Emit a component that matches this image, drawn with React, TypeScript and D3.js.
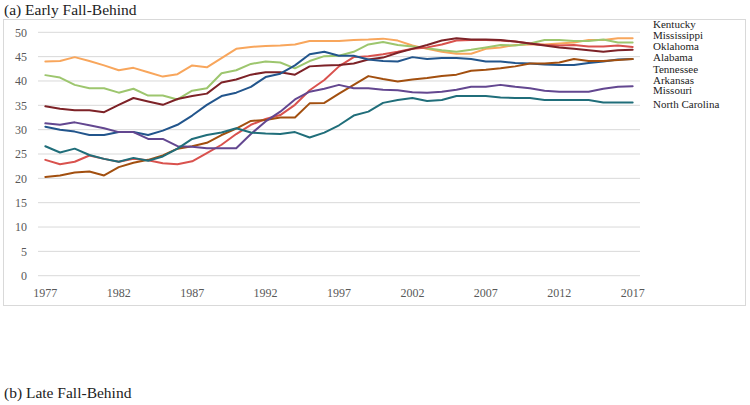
import React from "react";
import * as d3 from "d3";

const years: number[] = d3.range(1977, 2018);
const xTickYears: number[] = [1977, 1982, 1987, 1992, 1997, 2002, 2007, 2012, 2017];
const yTicks: number[] = [0, 5, 10, 15, 20, 25, 30, 35, 40, 45, 50];

const states: string[] = ["Kentucky", "Mississippi", "Oklahoma", "Alabama", "Tennessee", "Arkansas", "Missouri", "North Carolina"];
const colors: string[] = ["#F8A65C", "#9DC66E", "#D9524E", "#7D2227", "#22558C", "#A24F0F", "#634790", "#206E7A"];

const kentucky = [44.0, 44.1, 44.9, 44.1, 43.2, 42.2, 42.7, 41.8, 40.9, 41.4, 43.2, 42.8, 44.7, 46.6, 47.0, 47.2, 47.3, 47.5, 48.2, 48.2, 48.2, 48.4, 48.5, 48.7, 48.3, 47.3, 46.6, 46.0, 45.6, 45.6, 46.6, 46.9, 47.4, 47.5, 47.5, 47.7, 47.9, 48.4, 48.4, 48.8, 48.8];
const mississippi = [41.2, 40.7, 39.2, 38.5, 38.5, 37.6, 38.4, 37.0, 37.0, 36.2, 38.0, 38.5, 41.6, 42.2, 43.5, 44.0, 43.8, 42.6, 44.1, 45.1, 45.2, 46.0, 47.5, 48.0, 47.4, 47.1, 46.7, 46.3, 46.0, 46.4, 46.9, 47.4, 47.3, 47.7, 48.4, 48.4, 48.2, 48.2, 48.5, 47.9, 47.9];
const oklahoma = [23.8, 22.9, 23.4, 24.7, 24.0, 23.4, 24.0, 23.7, 23.1, 22.9, 23.5, 25.2, 26.9, 29.1, 31.0, 32.2, 33.0, 35.1, 38.1, 40.2, 43.0, 44.9, 45.1, 45.5, 46.0, 46.6, 46.9, 47.5, 48.3, 48.4, 48.4, 48.3, 48.1, 47.7, 47.4, 47.3, 47.4, 47.1, 47.1, 47.3, 47.0];
const alabama = [34.8, 34.3, 34.0, 34.0, 33.6, 35.1, 36.5, 35.8, 35.1, 36.3, 36.9, 37.4, 39.7, 40.3, 41.3, 41.8, 41.8, 41.3, 43.0, 43.2, 43.3, 43.6, 44.4, 44.8, 45.8, 46.6, 47.4, 48.3, 48.8, 48.5, 48.5, 48.4, 48.1, 47.7, 47.3, 46.9, 46.6, 46.3, 46.0, 46.3, 46.4];
const tennessee = [30.6, 30.0, 29.6, 28.9, 28.9, 29.5, 29.5, 28.9, 29.8, 31.0, 32.9, 35.1, 36.9, 37.6, 38.8, 40.8, 41.5, 43.2, 45.5, 46.0, 45.2, 45.2, 44.4, 44.1, 44.0, 44.9, 44.5, 44.7, 44.7, 44.5, 44.0, 44.0, 43.7, 43.6, 43.4, 43.3, 43.3, 43.7, 44.0, 44.4, 44.5];
const arkansas = [20.3, 20.6, 21.2, 21.4, 20.6, 22.3, 23.2, 23.8, 24.7, 26.1, 26.6, 27.3, 28.9, 30.2, 31.8, 32.0, 32.5, 32.5, 35.4, 35.5, 37.4, 39.2, 41.0, 40.4, 39.9, 40.3, 40.6, 41.0, 41.3, 42.1, 42.3, 42.6, 43.0, 43.6, 43.6, 43.8, 44.5, 44.1, 44.1, 44.3, 44.5];
const missouri = [31.3, 31.0, 31.5, 30.9, 30.3, 29.5, 29.5, 28.1, 28.1, 26.6, 26.5, 26.2, 26.2, 26.2, 29.1, 31.7, 33.7, 36.2, 37.8, 38.4, 39.2, 38.5, 38.5, 38.2, 38.1, 37.7, 37.6, 37.8, 38.2, 38.8, 38.8, 39.2, 38.8, 38.5, 38.0, 37.8, 37.8, 37.8, 38.4, 38.8, 38.9];
const northCarolina = [26.6, 25.3, 26.1, 24.8, 24.0, 23.4, 24.2, 23.6, 24.5, 26.1, 28.1, 28.9, 29.4, 30.3, 29.4, 29.2, 29.1, 29.5, 28.4, 29.4, 30.9, 32.9, 33.7, 35.5, 36.1, 36.5, 35.9, 36.1, 36.9, 36.9, 36.9, 36.6, 36.5, 36.5, 36.1, 36.1, 36.1, 36.1, 35.6, 35.6, 35.6];

const seriesValues: number[][] = [kentucky, mississippi, oklahoma, alabama, tennessee, arkansas, missouri, northCarolina];

const legendY = [24, 35.3, 46.3, 57.8, 69, 80, 90.8, 104];

export default function App() {
  const W = 750, H = 405;
  const plotLeft = 38, plotRight = 640;
  const x = d3.scalePoint<number>().domain(years).range([plotLeft, plotRight]).padding(0.5);
  const y = d3.scaleLinear().domain([0, 50]).range([275.7, 32.3]);
  const line = d3.line<number>().x((_, i) => x(years[i]) as number).y((d) => y(d));
  const font = "'Liberation Serif', 'Times New Roman', serif";

  return (
    <svg width={W} height={H} style={{ position: "absolute", left: 0, top: 0, background: "#fff" }} fontFamily={font}>
      <rect x={0} y={0} width={W} height={H} fill="#fff" />
      <text x={4} y={15} fontSize={15.5} fill="#222">(a) Early Fall-Behind</text>
      <rect x={3.5} y={19.5} width={742} height={286} fill="none" stroke="#D9D9D9" strokeWidth={1} />
      {yTicks.map((t) => (
        <g key={t}>
          <line x1={plotLeft} x2={plotRight} y1={y(t)} y2={y(t)} stroke="#D9D9D9" strokeWidth={1} />
          <text x={27} y={y(t)} dy="0.35em" textAnchor="end" fontSize={12} fill="#595959">{t}</text>
        </g>
      ))}
      {xTickYears.map((yr) => (
        <text key={yr} x={x(yr) as number} y={297} textAnchor="middle" fontSize={12} fill="#595959">{yr}</text>
      ))}
      {seriesValues.map((vals, i) => (
        <path key={states[i]} d={line(vals) || ""} fill="none" stroke={colors[i]} strokeWidth={2} strokeLinejoin="round" strokeLinecap="round" />
      ))}
      {states.map((s, i) => (
        <text key={s} x={653} y={legendY[i]} dy="0.33em" fontSize={11} fill="#222">{s}</text>
      ))}
      <text x={4} y={398} fontSize={15.5} fill="#222">(b) Late Fall-Behind</text>
    </svg>
  );
}
